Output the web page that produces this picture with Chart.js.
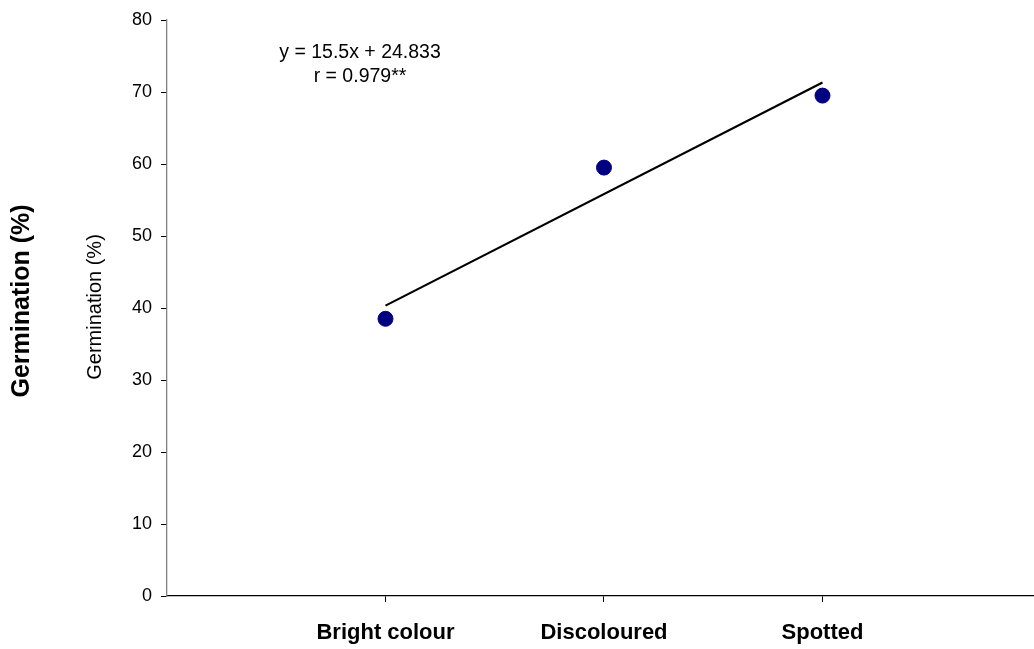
<!DOCTYPE html>
<html>
<head>
<meta charset="utf-8">
<script src="https://cdn.jsdelivr.net/npm/chart.js@4/dist/chart.umd.min.js"></script>
<style>
  html, body { margin: 0; padding: 0; background: #fff; overflow: hidden; }
  canvas { display: block; }
</style>
</head>
<body>
<canvas id="germ_chart" width="1034" height="649"></canvas>
<script>
// data
var categories = ['Bright colour', 'Discoloured', 'Spotted']
var catPos = [1, 2, 3]
var germination = [38.5, 59.5, 69.5]
var trendX = [1, 3]
var trendY = [40.33, 71.33]
var yTicks = [0, 10, 20, 30, 40, 50, 60, 70, 80]
var equationText = ['y = 15.5x + 24.833', 'r = 0.979**']

var FONT = "'Liberation Sans', Arial, sans-serif"

// draws the two rotated y titles and the equation box
var textPlugin = {
  id: 'texts',
  afterDraw: function (chart) {
    var ctx = chart.ctx
    ctx.save()
    ctx.fillStyle = '#000'
    ctx.textAlign = 'center'
    ctx.textBaseline = 'middle'

    ctx.save()
    ctx.translate(22, 301)
    ctx.rotate(-Math.PI / 2)
    ctx.font = 'bold 25px ' + FONT
    ctx.fillText('Germination (%)', 0, 0)
    ctx.restore()

    ctx.save()
    ctx.translate(95, 307)
    ctx.rotate(-Math.PI / 2)
    ctx.font = '20px ' + FONT
    ctx.fillText('Germination (%)', 0, 0)
    ctx.restore()

    ctx.font = '19.5px ' + FONT
    ctx.fillText(equationText[0], 360, 53)
    ctx.fillText(equationText[1], 360, 77)
    ctx.restore()
  }
}

var ctx = document.getElementById('germ_chart').getContext('2d')
var germ_chart = new Chart(ctx, {
  type: 'scatter',
  data: {
    datasets: [{
      label: 'Germination',
      data: catPos.map(function (x, i) { return { x: x, y: germination[i] } }),
      backgroundColor: '#000080',
      borderColor: '#000080',
      pointRadius: 7.5,
      pointHoverRadius: 7.5,
      order: 1
    }, {
      type: 'line',
      label: 'Trend',
      data: trendX.map(function (x, i) { return { x: x, y: trendY[i] } }),
      borderColor: '#000',
      borderWidth: 2.2,
      pointRadius: 0,
      fill: false,
      order: 2
    }]
  },
  options: {
    responsive: false,
    animation: false,
    layout: { autoPadding: false, padding: { top: 20, left: 0, right: 0, bottom: 0 } },
    plugins: {
      legend: { display: false },
      tooltip: { enabled: false }
    },
    scales: {
      x: {
        type: 'linear',
        min: 0,
        max: 3.968,
        afterBuildTicks: function (scale) {
          scale.ticks = catPos.map(function (v) { return { value: v } })
        },
        afterFit: function (scale) {
          scale.height = 53
        },
        grid: { drawOnChartArea: false, drawTicks: true, tickLength: 6, color: '#000' },
        border: { color: '#000', width: 1.3 },
        ticks: {
          padding: 18,
          color: '#000',
          font: { family: FONT, size: 22, weight: 'bold' },
          maxRotation: 0,
          callback: function (v) { return categories[catPos.indexOf(v)] }
        }
      },
      y: {
        min: 0,
        max: 80,
        afterBuildTicks: function (scale) {
          scale.ticks = yTicks.map(function (v) { return { value: v } })
        },
        afterFit: function (scale) { scale.width = 167 },
        grid: { drawOnChartArea: false, drawTicks: true, tickLength: 6, color: '#000' },
        border: { color: '#808080', width: 1.3 },
        ticks: {
          padding: 9,
          color: '#000',
          font: { family: FONT, size: 18 }
        }
      }
    }
  },
  plugins: [textPlugin]
})
</script>
</body>
</html>
